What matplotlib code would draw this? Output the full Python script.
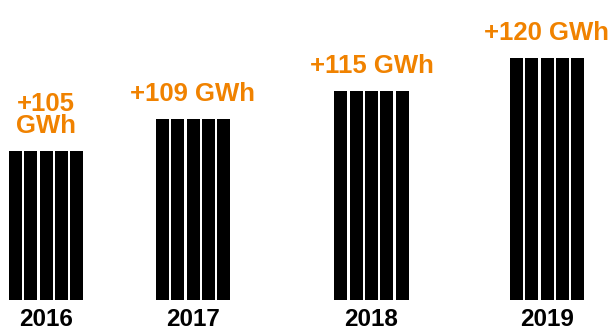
import matplotlib
matplotlib.use("Agg")
import matplotlib.pyplot as plt
import numpy as np

# data
years = ["2016", "2017", "2018", "2019"]
values = [105, 109, 115, 120]
labels = ["+105\nGWh", "+109 GWh", "+115 GWh", "+120 GWh"]
bar_heights = [149, 181, 209, 242]  # visual heights as drawn in the infographic

# layout
group_centers = [46, 193, 371.5, 547]
n_sub = 5
sub_w = 13.0
pitch = 15.4
orange = "#F08200"

fig = plt.figure(figsize=(6.15, 3.31), dpi=100)
ax = fig.add_axes([0, 0, 1, 1])
ax.set_xlim(0, 615)
ax.set_ylim(-31, 300)
ax.axis("off")

offsets = (np.arange(n_sub) - (n_sub - 1) / 2) * pitch
for c, h, lab, yr in zip(group_centers, bar_heights, labels, years):
    ax.bar(c + offsets, [h] * n_sub, width=sub_w, color="black", linewidth=0)
    ax.text(c, h + 18, lab, ha="center", va="baseline", color=orange,
            fontsize=18.5, fontweight="bold", family="Liberation Sans",
            linespacing=0.9)
    ax.text(c, -30.5, yr, ha="center", va="bottom", color="black",
            fontsize=17.5, fontweight="bold", family="Liberation Sans")

fig.savefig("out.png", dpi=100)
